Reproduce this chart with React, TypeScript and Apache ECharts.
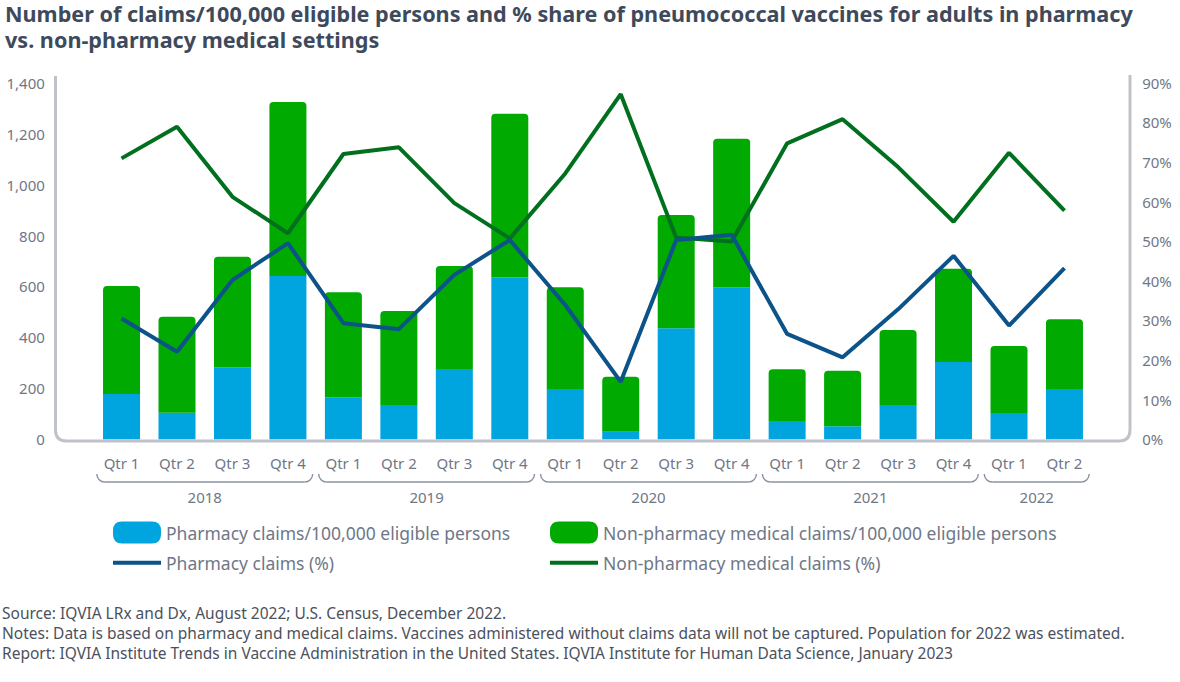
import React, { useEffect, useRef } from 'react';
import * as echarts from 'echarts';

// categories
const quarters = [
  'Qtr 1', 'Qtr 2', 'Qtr 3', 'Qtr 4',
  'Qtr 1', 'Qtr 2', 'Qtr 3', 'Qtr 4',
  'Qtr 1', 'Qtr 2', 'Qtr 3', 'Qtr 4',
  'Qtr 1', 'Qtr 2', 'Qtr 3', 'Qtr 4',
  'Qtr 1', 'Qtr 2',
];
const years = ['2018', '2019', '2020', '2021', '2022'];
const quartersPerYear = [4, 4, 4, 4, 2];

// claims per 100,000 eligible persons (left axis)
const pharmacyClaims = [178, 104, 283, 641, 165, 135, 276, 635, 197, 30, 436, 597, 72, 51, 135, 303, 103, 197];
const nonPharmacyClaims = [424, 377, 434, 683, 412, 369, 404, 643, 400, 216, 445, 583, 203, 218, 294, 367, 263, 274];

// % share (right axis)
const pharmacyShare = [30.5, 22.1, 40.2, 49.5, 29.3, 27.8, 41.5, 50.3, 33.9, 14.5, 50.3, 51.6, 26.6, 20.7, 32.8, 46.3, 28.7, 43.2];
const nonPharmacyShare = [70.9, 78.9, 61.2, 52.0, 72.0, 73.7, 59.6, 50.7, 67.1, 87.1, 50.9, 49.9, 74.7, 80.8, 68.7, 54.9, 72.3, 57.7];

const seriesNames = [
  'Pharmacy claims/100,000 eligible persons',
  'Non-pharmacy medical claims/100,000 eligible persons',
  'Pharmacy claims (%)',
  'Non-pharmacy medical claims (%)',
];

const leftTicks = { min: 0, max: 1400, interval: 200 };
const rightTicks = { min: 0, max: 90, interval: 10 };

const titleText =
  'Number of claims/100,000 eligible persons and % share of pneumococcal vaccines for adults in pharmacy\nvs. non-pharmacy medical settings';
const footerLines = [
  'Source: IQVIA LRx and Dx, August 2022; U.S. Census, December 2022.',
  'Notes: Data is based on pharmacy and medical claims. Vaccines administered without claims data will not be captured. Population for 2022 was estimated.',
  'Report: IQVIA Institute Trends in Vaccine Administration in the United States. IQVIA Institute for Human Data Science, January 2023',
];

const FONT = '"Noto Sans", sans-serif';
const GREY_TEXT = '#6f7787';
const FRAME_PATH =
  'M55.5,76 L55.5,430 Q55.5,441 66.5,441 L1119,441 Q1130,441 1130,430 L1130,75';
const PILL = 'path://M9,0 H39 Q48,0 48,9 V13 Q48,22 39,22 H9 Q0,22 0,13 V9 Q0,0 9,0 Z';

const App = () => {
  const chartRef = useRef<HTMLDivElement>(null);

  useEffect(() => {
    document.body.style.margin = '0';
    echarts.graphic.registerShape('frame', echarts.graphic.extendPath(FRAME_PATH, {}));
    const chart = echarts.init(chartRef.current, null, { renderer: 'svg' });

    const legendText = { color: GREY_TEXT, fontSize: 17.5, fontFamily: FONT, lineHeight: 22 };
    const legendBase = { padding: 0, selectedMode: false, textStyle: legendText };

    chart.setOption({
      animation: false,
      textStyle: { fontFamily: FONT },
      title: {
        text: titleText,
        left: 5,
        top: 0,
        padding: 0,
        textStyle: { fontSize: 21.6, fontWeight: 'bold', color: '#3e4a5b', lineHeight: 26.5, fontFamily: FONT },
      },
      legend: [
        { ...legendBase, data: [seriesNames[0]], left: 113, top: 521.5, icon: PILL, itemWidth: 48, itemHeight: 22 },
        { ...legendBase, data: [seriesNames[1]], left: 550, top: 521.5, icon: PILL, itemWidth: 48, itemHeight: 22 },
        { ...legendBase, data: [seriesNames[2]], left: 113, top: 551.7, icon: 'rect', itemWidth: 48, itemHeight: 4 },
        { ...legendBase, data: [seriesNames[3]], left: 550, top: 551.7, icon: 'rect', itemWidth: 48, itemHeight: 4 },
      ],
      grid: { left: 93.8, right: 87.8, top: 82.7, bottom: 242.7, containLabel: false },
      xAxis: {
        type: 'category',
        data: quarters,
        axisLine: { show: false },
        axisTick: { show: false },
        axisLabel: { color: GREY_TEXT, fontSize: 15, margin: 16, interval: 0 },
      },
      yAxis: [
        {
          type: 'value',
          ...leftTicks,
          splitLine: { show: false },
          axisLine: { show: false },
          axisLabel: {
            color: GREY_TEXT,
            fontSize: 15,
            margin: 49,
            formatter: (v: number) => v.toLocaleString('en-US'),
          },
        },
        {
          type: 'value',
          ...rightTicks,
          splitLine: { show: false },
          axisLine: { show: false },
          axisLabel: { color: GREY_TEXT, fontSize: 15, margin: 50, formatter: '{value}%' },
        },
      ],
      series: [
        {
          name: seriesNames[0],
          type: 'bar',
          stack: 'claims',
          barWidth: 37,
          data: pharmacyClaims,
          itemStyle: { color: '#00a5e0' },
        },
        {
          name: seriesNames[1],
          type: 'bar',
          stack: 'claims',
          barWidth: 37,
          data: nonPharmacyClaims,
          itemStyle: { color: '#00aa00', borderRadius: [4, 4, 0, 0] },
        },
        {
          name: seriesNames[3],
          type: 'line',
          yAxisIndex: 1,
          data: nonPharmacyShare,
          showSymbol: false,
          itemStyle: { color: '#00701f' },
          lineStyle: { color: '#00701f', width: 4 },
          z: 3,
        },
        {
          name: seriesNames[2],
          type: 'line',
          yAxisIndex: 1,
          data: pharmacyShare,
          showSymbol: false,
          itemStyle: { color: '#0b5389' },
          lineStyle: { color: '#0b5389', width: 4 },
          z: 4,
        },
      ],
    });

    // year braces under the quarter labels, placed through the category axis
    const centers = quarters.map((_, i) => chart.convertToPixel({ xAxisIndex: 0 }, i) as number);
    const band = centers[1] - centers[0];
    const yTop = 474;
    const r = 8;
    const braceStyle = { stroke: '#8a92a2', lineWidth: 1.4, fill: 'none' };
    const yearGraphics: any[] = [];
    let start = 0;
    years.forEach((year, k) => {
      const end = start + quartersPerYear[k] - 1;
      const x0 = centers[start] - band / 2 + 3;
      const x1 = centers[end] + band / 2 - 3;
      yearGraphics.push(
        { type: 'arc', shape: { cx: x0 + r, cy: yTop, r, startAngle: Math.PI / 2, endAngle: Math.PI, clockwise: true }, style: braceStyle, silent: true },
        { type: 'line', shape: { x1: x0 + r, y1: yTop + r, x2: x1 - r, y2: yTop + r }, style: braceStyle, silent: true },
        { type: 'arc', shape: { cx: x1 - r, cy: yTop, r, startAngle: 0, endAngle: Math.PI / 2, clockwise: true }, style: braceStyle, silent: true },
        {
          type: 'text',
          x: (x0 + x1) / 2,
          y: 496.7,
          style: { text: year, fill: GREY_TEXT, fontSize: 15, fontFamily: FONT, align: 'center', verticalAlign: 'middle' },
          silent: true,
        },
      );
      start = end + 1;
    });

    chart.setOption({
      graphic: [
        {
          type: 'frame',
          x: 0,
          y: 0,
          scaleX: 1,
          scaleY: 1,
          style: { stroke: '#bfc3c9', lineWidth: 3, fill: 'none' },
          silent: true,
          z: -1,
        },
        ...yearGraphics,
        ...footerLines.map((line, i) => ({
          type: 'text',
          x: 2,
          y: [612.7, 632.9, 653.3][i],
          style: { text: line, fill: '#4b515c', fontSize: 15.5, fontFamily: FONT, verticalAlign: 'middle' },
          silent: true,
        })),
      ],
    });

    return () => {
      chart.dispose();
    };
  }, []);

  return <div ref={chartRef} style={{ width: 1180, height: 682 }}></div>;
};

export default App;
